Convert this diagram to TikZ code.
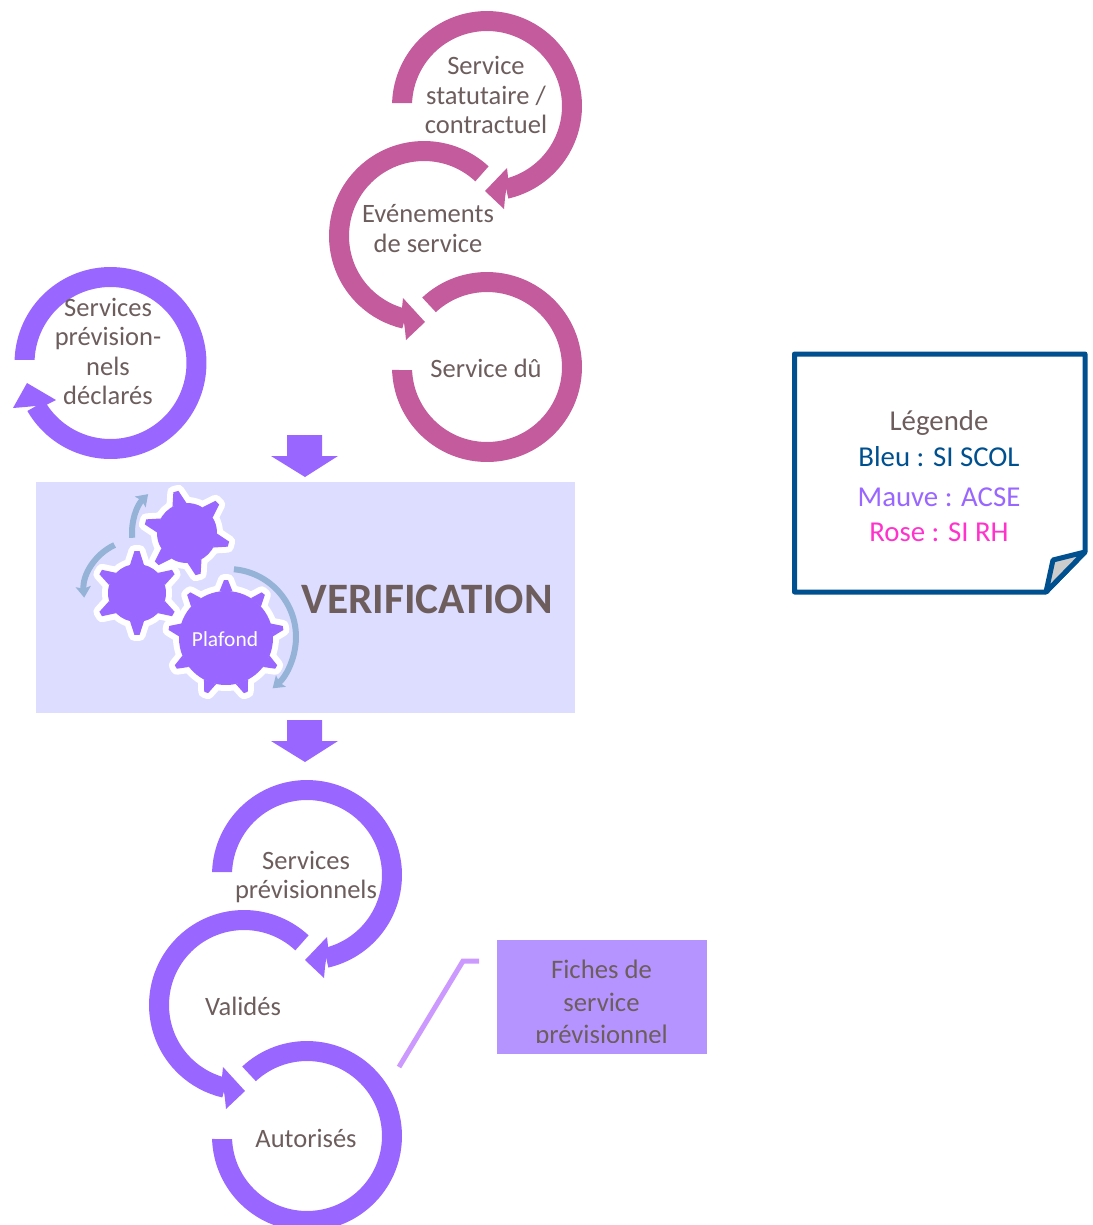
\documentclass[tikz,border=0pt]{standalone}
\usepackage{fontspec}
\setmainfont{Carlito}
\usetikzlibrary{arrows.meta}

\definecolor{ringpink}{HTML}{C45B9C}
\definecolor{mauve}{HTML}{9966FF}
\definecolor{textgrey}{HTML}{6D5D5D}
\definecolor{bandlilac}{HTML}{DDDDFF}
\definecolor{boxlilac}{HTML}{B694FF}
\definecolor{leaderlilac}{HTML}{CC99FF}
\definecolor{turnblue}{HTML}{95B3D7}
\definecolor{scolblue}{HTML}{00508F}
\definecolor{rhrose}{HTML}{FF33CC}

\tikzset{
  ring/.style={line width=0.4cm},
  ring text/.style={text=textgrey,align=center,inner sep=0pt,
    font=\fontsize{15.1}{16.6}\selectfont},
  legend text/.style={inner sep=0pt,font=\fontsize{16.4}{18}\selectfont},
  gearedge/.style={draw=white,fill=white,line width=0.24cm,line join=round},
  gearfill/.style={fill=mauve},
  turn/.style={-{Stealth[length=0.22cm,width=0.3cm,inset=0.04cm]},draw=turnblue,
    line width=0.12cm},
  trio/.pic={
    \fill (178.2:1.9cm) arc[start angle=178.2,end angle=-77,radius=1.9cm]
      -- (-77:1.5cm) arc[start angle=-77,end angle=177.7,radius=1.5cm] -- cycle;
    \fill (20,62) -- (-2,85) -- (17,103) -- (18,92) -- (21,71) -- cycle;
    \draw[ring] (-63,130) ++(47:1.7cm) arc[start angle=47,end angle=257,radius=1.7cm];
    \fill (-84,192) -- (-62,216) -- (-81,234) -- (-82,224) -- (-85,202) -- cycle;
    \fill[shift={(0,261)}] (133:1.9cm) arc[start angle=133,end angle=-178.2,radius=1.9cm]
      -- (-177.7:1.5cm) arc[start angle=-177.7,end angle=133,radius=1.5cm] -- cycle;
  },
  drop/.pic={
    \fill (-18,0) -- (17,0) -- (17,21) -- (33,21) -- (0,42) -- (-34,21)
      -- (-18,21) -- cycle;
  }
}

% x y teeth rotation body tip half-angle
\newcommand{\gear}[7]{
  \begin{scope}[shift={(#1,#2)}]
    \foreach \look in {gearedge,gearfill}{
      \foreach \k in {1,...,#3}{
        \pgfmathsetmacro{\a}{#4+360*\k/#3}
        \path[\look] ({\a-#7}:#5cm) -- ({\a-#7/4}:#6cm) -- ({\a+#7/4}:#6cm)
          -- ({\a+#7}:#5cm) -- cycle;
      }
      \path[\look] (0,0) circle[radius=#5cm];
    }
  \end{scope}
}

\begin{document}
\begin{tikzpicture}[x=0.02cm,y=-0.02cm]
  \useasboundingbox (0,0) rectangle (1093,1225);

  % upper and lower cycles
  \pic[color=ringpink] (rh) at (487,106) {trio};
  \pic[color=mauve] (acse) at (307,875) {trio};

  \node[ring text] (statutaire) at (486,95) {Service\\statutaire /\\contractuel};
  \node[ring text] (evenements) at (428,228.5) {Evénements\\de service};
  \node[ring text] (du) at (486,368) {Service dû};
  \node[ring text] (previsionnels) at (306,877) {Services\\prévisionnels};
  \node[ring text] (valides) at (243,1006) {Validés};
  \node[ring text] (autorises) at (306,1138) {Autorisés};

  % declared services
  \fill[mauve,shift={(110.5,363)}] (178.2:1.92cm) arc[start angle=178.2,end angle=-150,radius=1.92cm]
    -- (-150:1.52cm) arc[start angle=-150,end angle=177.7,radius=1.52cm] -- cycle;
  \fill[mauve] (27,383) -- (56,400) -- (46,405) -- (25,407) -- (13,408) -- cycle;
  \node[ring text] (declares) at (108,351.5) {Services\\prévision-\\nels\\déclarés};

  \pic[color=mauve] (dropa) at (305,435) {drop};

  \node[fill=bandlilac,minimum width=10.78cm,minimum height=4.62cm,inner sep=0pt,
    anchor=north west] (band) at (36,482) {};
  \pic[color=mauve] (dropb) at (305,720) {drop};

  \gear{187}{533}{6}{45}{0.6}{0.86}{14}
  \gear{137}{593}{6}{30}{0.58}{0.84}{14}
  \gear{226}{638}{9}{90}{0.94}{1.16}{8}

  \node[text=white,inner sep=0pt,font=\fontsize{12.2}{14}\selectfont] (plafond) at (225,639) {Plafond};
  \node[text=textgrey,inner sep=0pt,font=\fontsize{24.7}{28}\selectfont\bfseries] (verification)
    at (427,599) {VERIFICATION};

  \draw[turn] (228,637) ++(85:1.36cm) arc[start angle=85,end angle=-49,radius=1.36cm];
  \draw[turn] (137,593) ++(115:1.06cm) arc[start angle=115,end angle=185,radius=1.06cm];
  \draw[turn] (187,533) ++(185:1.1cm) arc[start angle=185,end angle=135,radius=1.1cm];

  % record sheet and its leader
  \node[fill=boxlilac,minimum width=4.2cm,minimum height=2.28cm,inner sep=0pt,
    anchor=north west] (fiches) at (497,940) {};
  \begin{scope}
    \clip (497,940) rectangle (707,1042);
    \node[text=textgrey,align=center,inner sep=0pt,
      font=\fontsize{15.2}{18.5}\selectfont] (fichestext) at (601.5,1004)
      {Fiches de\\service\\prévisionnel};
  \end{scope}
  \coordinate (leadera) at (399,1067);
  \coordinate (leaderb) at (463,961);
  \coordinate (leaderc) at (479,961);
  \draw[leaderlilac,line width=0.1cm] (leadera) -- (leaderb) -- (leaderc);

  % legend
  \draw[scolblue,line width=0.1cm,line join=round] (794.5,354) -- (1085,354) -- (1085,552)
    -- (1046,592) -- (794.5,592) -- cycle;
  \draw[scolblue,fill=black!20,line width=0.1cm,line join=round] (1085,552) -- (1053,560)
    -- (1046,592) -- cycle;
  \node[legend text,text=textgrey] (legende) at (939,423) {Légende};
  \node[legend text,text=scolblue] (bleu) at (939,457) {Bleu : SI SCOL};
  \node[legend text,text=mauve] (mauve) at (939,497) {Mauve : ACSE};
  \node[legend text,text=rhrose] (rose) at (939,532) {Rose : SI RH};
\end{tikzpicture}
\end{document}
